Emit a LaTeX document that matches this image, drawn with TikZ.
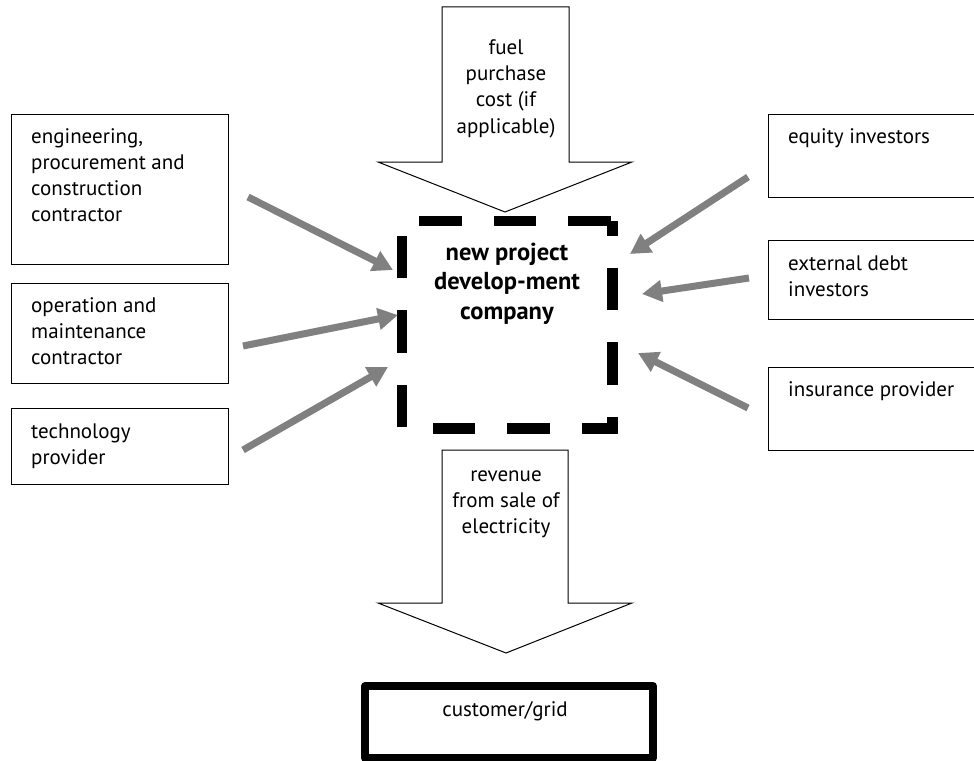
\documentclass[tikz,border=0pt]{standalone}
\usepackage{fontspec}
\setmainfont{PT Sans}
\usetikzlibrary{arrows.meta,calc}
\definecolor{arrowgray}{RGB}{128,128,128}
\begin{document}
\begin{tikzpicture}[x=1pt,y=-1pt,
  box/.style={draw=black, line width=1.2pt, fill=white, inner sep=0pt, anchor=north west},
  txt/.style={inner sep=0pt, font=\fontsize{21}{26}\selectfont},
  boldtxt/.style={inner sep=0pt, font=\bfseries\fontsize{24.5}{29.5}\selectfont},
  feed/.style={draw=arrowgray, line width=7pt, -{Triangle[length=20pt,width=21pt]}},
  blockarrow/.style={draw=black, line width=1pt, fill=white, line join=miter},
  dashbox/.style={draw=black, line width=10.5pt, dash pattern=on 42.5pt off 32pt, dash phase=28pt, line join=miter},
  custbox/.style={draw=black, line width=8pt, fill=white, inner sep=0pt, anchor=north west, line join=round},
]
\useasboundingbox (0,0) rectangle (974,760);
\clip (0,0) rectangle (974,760);

% block arrows
\draw[blockarrow] (442,7) -- (569,7) -- (569,162) -- (632,162) -- (505,212) -- (378,162) -- (442,162) -- cycle;
\draw[blockarrow] (442,450) -- (568,450) -- (568,603) -- (632,603) -- (506,653) -- (378,603) -- (442,603) -- cycle;

% left boxes
\node[box, minimum width=217pt, minimum height=150pt] (epc) at (10.6,113.6) {};
\node[box, minimum width=217pt, minimum height=100pt] (om) at (10.6,282.6) {};
\node[box, minimum width=217pt, minimum height=76pt] (tech) at (10.6,407.6) {};

% right boxes
\node[box, minimum width=230pt, minimum height=83pt] (eq) at (767.6,113.6) {};
\node[box, minimum width=230pt, minimum height=79pt] (debt) at (767.6,239.6) {};
\node[box, minimum width=230pt, minimum height=83pt] (ins) at (767.6,366.6) {};

% customer box
\node[custbox, minimum width=288pt, minimum height=72pt] (cust) at (361,682) {};

% company (dashed)
\node[draw=none, inner sep=0pt, minimum width=210pt, minimum height=207pt, anchor=north west] (comp) at (402,221) {};
\draw[dashbox] (comp.north east) -- (comp.south east) -- (comp.south west) -- (comp.north west) -- cycle;

% texts
\node[txt, anchor=base west] (epct) at (31,143) {\parbox[t]{190pt}{\raggedright engineering,\\ procurement and\\ construction\\ contractor}};
\node[txt, anchor=base west] (omt) at (31,312) {\parbox[t]{190pt}{\raggedright operation and\\ maintenance\\ contractor}};
\node[txt, anchor=base west] (techt) at (31,438) {\parbox[t]{190pt}{\raggedright technology\\ provider}};
\node[txt, anchor=base west] (eqt) at (788,143) {\parbox[t]{180pt}{\raggedright equity investors}};
\node[txt, anchor=base west] (debtt) at (788,270) {\parbox[t]{180pt}{\raggedright external debt\\ investors}};
\node[txt, anchor=base west] (inst) at (788,396) {\parbox[t]{180pt}{\raggedright insurance provider}};
\node[txt, anchor=base] (fuelt) at (506,55) {\parbox[t]{120pt}{\centering fuel\\ purchase\\ cost (if\\ applicable)}};
\node[txt, anchor=base] (revt) at (506,481) {\parbox[t]{120pt}{\centering revenue\\ from sale of\\ electricity}};
\node[txt, anchor=base] (custt) at (505,716) {customer/grid};
\node[boldtxt, anchor=base] (compt) at (507,260) {\parbox[t]{200pt}{\centering new project\\ develop-ment\\ company}};

% feed arrows
\coordinate (a1s) at (248,197); \coordinate (a1e) at (393,270);
\coordinate (a2s) at (243,346); \coordinate (a2e) at (398,315);
\coordinate (a3s) at (243,450); \coordinate (a3e) at (388,367);
\coordinate (a4s) at (748,177); \coordinate (a4e) at (630,254);
\coordinate (a5s) at (749,278); \coordinate (a5e) at (642,294);
\coordinate (a6s) at (748,408); \coordinate (a6e) at (638,353);
\draw[feed] (a1s) -- (a1e);
\draw[feed] (a2s) -- (a2e);
\draw[feed] (a3s) -- (a3e);
\draw[feed] (a4s) -- (a4e);
\draw[feed] (a5s) -- (a5e);
\draw[feed] (a6s) -- (a6e);
\end{tikzpicture}
\end{document}
